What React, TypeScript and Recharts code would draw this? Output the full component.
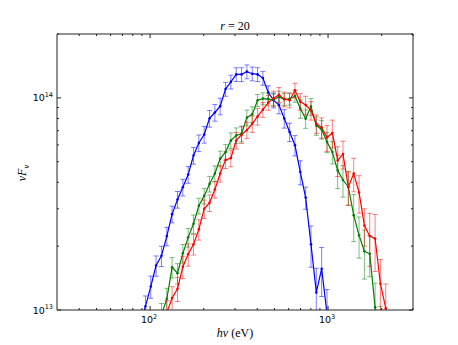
import React from 'react'
import { LineChart, Line, XAxis, YAxis, ErrorBar } from 'recharts'

// photon energy bins (eV), shared by the three spectra
const energy = [
  87.9, 94.2, 100.9, 108.1, 115.9, 124.2, 133.0, 142.6, 152.8, 163.7, 175.4, 187.9,
  201.4, 215.8, 231.2, 247.7, 265.5, 284.4, 304.8, 326.6, 349.9, 375.0, 401.8, 430.5,
  461.3, 494.3, 529.7, 567.5, 608.1, 651.6, 698.2, 748.2, 801.7, 859.0, 920.4, 986.3,
  1057, 1132, 1213, 1300, 1393, 1493, 1600, 1714, 1837, 1968, 2109, 2259,
]

// nuF_nu in units of 1e13, first value sits at energy[start]
const blueStart = 0
const blueFlux = [
  0.85, 1.04, 1.29, 1.62, 1.8, 2.23, 2.83, 3.32, 3.79, 4.35, 5.35, 6.13, 6.72, 8.0, 8.53, 9.14,
  11.0, 11.9, 12.9, 12.9, 13.3, 13.0, 12.9, 12.4, 10.6, 9.75, 9.24, 8.0, 6.91, 5.98, 4.47, 3.39,
  2.04, 1.21, 1.565, 0.96,
]
const blueErr = [
  0.13, 0.12, 0.12, 0.11, 0.11, 0.1, 0.09, 0.09, 0.09, 0.09, 0.09, 0.09, 0.09, 0.09, 0.09, 0.09,
  0.075, 0.075, 0.075, 0.075, 0.075, 0.075, 0.075, 0.075, 0.075, 0.08, 0.09, 0.1, 0.1, 0.11,
  0.13, 0.12, 0.22, 0.3, 0.26, 0.3,
]

const greenStart = 4
const greenFlux = [
  0.95, 1.13, 1.59, 1.49, 1.85, 2.2, 2.55, 3.1, 3.45, 3.93, 4.4, 5.17, 5.55, 6.3, 6.65, 6.78,
  8.07, 8.36, 9.74, 9.92, 9.88, 9.8, 10.1, 9.85, 9.88, 10.2, 8.9, 7.98, 9.1, 7.4, 7.1, 6.2,
  5.55, 4.55, 4.1, 3.8, 2.8, 2.25, 1.89, 1.84, 1.03, 0.8,
]
const greenErr = [
  0.13, 0.12, 0.11, 0.11, 0.1, 0.1, 0.1, 0.085, 0.085, 0.085, 0.085, 0.085, 0.085, 0.085, 0.085,
  0.085, 0.085, 0.085, 0.065, 0.065, 0.065, 0.065, 0.065, 0.065, 0.065, 0.065, 0.1, 0.1, 0.09,
  0.1, 0.1, 0.11, 0.12, 0.18, 0.17, 0.18, 0.25, 0.22, 0.26, 0.22, 0.3, 0.3,
]

const redStart = 5
const redFlux = [
  0.97, 1.14, 1.26, 1.6, 1.83, 2.04, 2.4, 3.0, 3.2, 3.7, 4.4, 5.1, 5.2, 6.3, 6.7, 7.05, 7.55,
  8.17, 8.8, 9.5, 9.95, 10.35, 9.85, 9.75, 10.85, 9.6, 9.25, 8.73, 7.55, 7.25, 6.5, 6.83, 5.07,
  5.43, 3.8, 4.4, 3.58, 2.5, 2.23, 2.17, 1.33, 1.02, 0.75,
]
const redErr = [
  0.14, 0.13, 0.13, 0.12, 0.12, 0.11, 0.11, 0.1, 0.09, 0.09, 0.09, 0.09, 0.09, 0.09, 0.09, 0.09,
  0.09, 0.09, 0.08, 0.08, 0.08, 0.08, 0.08, 0.08, 0.08, 0.09, 0.1, 0.1, 0.1, 0.11, 0.14, 0.15,
  0.16, 0.15, 0.18, 0.18, 0.2, 0.2, 0.28, 0.3, 0.3, 0.3, 0.3,
]

const xTicks = [40, 50, 60, 70, 80, 90, 100, 200, 300, 400, 500, 600, 700, 800, 900, 1000, 2000, 3000]
const yTicks = [1e13, 2e13, 3e13, 4e13, 5e13, 6e13, 7e13, 8e13, 9e13, 1e14, 2e14]

const UNIT = 1e13

const build = (start: number, flux: number[], rel: number[]) =>
  flux.map((v, i) => ({ e: energy[start + i], f: v * UNIT, err: v * UNIT * rel[i] }))

const blueData = build(blueStart, blueFlux, blueErr)
const greenData = build(greenStart, greenFlux, greenErr)
const redData = build(redStart, redFlux, redErr)

const W = 458
const H = 345
const margin = { top: 33, right: 44, bottom: 34, left: 56 }
const AX = 1 // thickness reserved for each axis

const isMajor = (v: number) => Math.abs(Math.log10(v) - Math.round(Math.log10(v))) < 1e-6
const tickFont = "'DejaVu Sans', sans-serif"
const mathFont = "'Liberation Serif', serif"
const frame = '#222'

// ticks point inwards, like matplotlib's classic style
const XTick = (props: any) => {
  const { x, y, payload, side } = props
  const major = isMajor(payload.value)
  const len = major ? 4 : 2
  const dir = side === 'top' ? 1 : -1
  return (
    <g>
      <line x1={x} x2={x} y1={y} y2={y + dir * len} stroke={frame} strokeWidth={1} />
      {side !== 'top' && major && (
        <text x={x - 1} y={y + 13} textAnchor="middle" fontSize={9.5} fontFamily={tickFont} fill="#000">
          10<tspan dy={-4} fontSize={6.5}>{Math.round(Math.log10(payload.value))}</tspan>
        </text>
      )}
    </g>
  )
}

const YTick = (props: any) => {
  const { x, y, payload, side } = props
  const major = isMajor(payload.value)
  const len = major ? 4 : 2
  const dir = side === 'right' ? -1 : 1
  return (
    <g>
      <line x1={x} x2={x + dir * len} y1={y} y2={y} stroke={frame} strokeWidth={1} />
      {side !== 'right' && major && (
        <text x={x - 4} y={y + 3.5} textAnchor="end" fontSize={9.5} fontFamily={tickFont} fill="#000">
          10<tspan dy={-4.5} fontSize={6.5}>{Math.round(Math.log10(payload.value))}</tspan>
        </text>
      )}
    </g>
  )
}

const series = [
  { name: 'blue', data: blueData, color: '#0000ff', bar: 'rgba(0,0,255,0.5)' },
  { name: 'green', data: greenData, color: '#008000', bar: 'rgba(0,128,0,0.5)' },
  { name: 'red', data: redData, color: '#ff0000', bar: 'rgba(255,0,0,0.5)' },
]

const axisCommon = {
  tickLine: false,
  tickSize: 0,
  tickMargin: 0,
  interval: 0 as const,
  allowDataOverflow: true,
  axisLine: { stroke: frame },
}

// plot rectangle, used to clip the error bars like the lines
const plotX = margin.left + AX
const plotY = margin.top + AX
const plotW = W - margin.left - margin.right - 2 * AX
const plotH = H - margin.top - margin.bottom - 2 * AX

const App = () => {
  return (
    <div style={{ position: 'relative', width: W, height: H, background: '#fff' }}>
      <style>{'body{margin:0} .recharts-errorBars, .recharts-errorBar { clip-path: url(#plotClip); }'}</style>
      <svg width={0} height={0} style={{ position: 'absolute' }}>
        <defs>
          <clipPath id="plotClip" clipPathUnits="userSpaceOnUse">
            <rect x={plotX} y={plotY} width={plotW} height={plotH} />
          </clipPath>
        </defs>
      </svg>
      <LineChart width={W} height={H} margin={margin}>
        <XAxis
          {...axisCommon}
          xAxisId="bottom"
          type="number"
          dataKey="e"
          scale="log"
          domain={[30, 3000]}
          ticks={xTicks}
          height={AX}
          tick={<XTick side="bottom" />}
        />
        <XAxis
          {...axisCommon}
          xAxisId="top"
          orientation="top"
          type="number"
          dataKey="e"
          scale="log"
          domain={[30, 3000]}
          ticks={xTicks}
          height={AX}
          tick={<XTick side="top" />}
        />
        <YAxis
          {...axisCommon}
          yAxisId="left"
          type="number"
          scale="log"
          domain={[1e13, 2e14]}
          ticks={yTicks}
          width={AX}
          tick={<YTick side="left" />}
        />
        <YAxis
          {...axisCommon}
          yAxisId="right"
          orientation="right"
          type="number"
          scale="log"
          domain={[1e13, 2e14]}
          ticks={yTicks}
          width={AX}
          tick={<YTick side="right" />}
        />
        {series.map((s) => (
          <Line
            key={s.name}
            xAxisId="bottom"
            yAxisId="left"
            data={s.data}
            dataKey="f"
            type="linear"
            stroke={s.color}
            strokeWidth={1.2}
            dot={{ r: 1.3, fill: s.color, stroke: 'none' }}
            activeDot={false}
            isAnimationActive={false}
          >
            <ErrorBar dataKey="err" direction="y" width={2.5} stroke={s.bar} strokeWidth={1} />
          </Line>
        ))}
      </LineChart>
      <svg
        width={W}
        height={H}
        style={{ position: 'absolute', left: 0, top: 0, pointerEvents: 'none' }}
      >
        <text x={235} y={30} textAnchor="middle" fontSize={12} fontFamily={mathFont} fill="#000">
          <tspan fontStyle="italic">r</tspan> = 20
        </text>
        <text x={235} y={337} textAnchor="middle" fontSize={12} fontFamily={mathFont} fill="#000">
          <tspan fontStyle="italic">hν</tspan> (eV)
        </text>
        <text
          x={0}
          y={0}
          transform="translate(26,173) rotate(-90)"
          textAnchor="middle"
          fontSize={12}
          fontFamily={mathFont}
          fontStyle="italic"
          fill="#000"
        >
          νF<tspan dy={3} fontSize={8.5}>ν</tspan>
        </text>
      </svg>
    </div>
  )
}

export default App
